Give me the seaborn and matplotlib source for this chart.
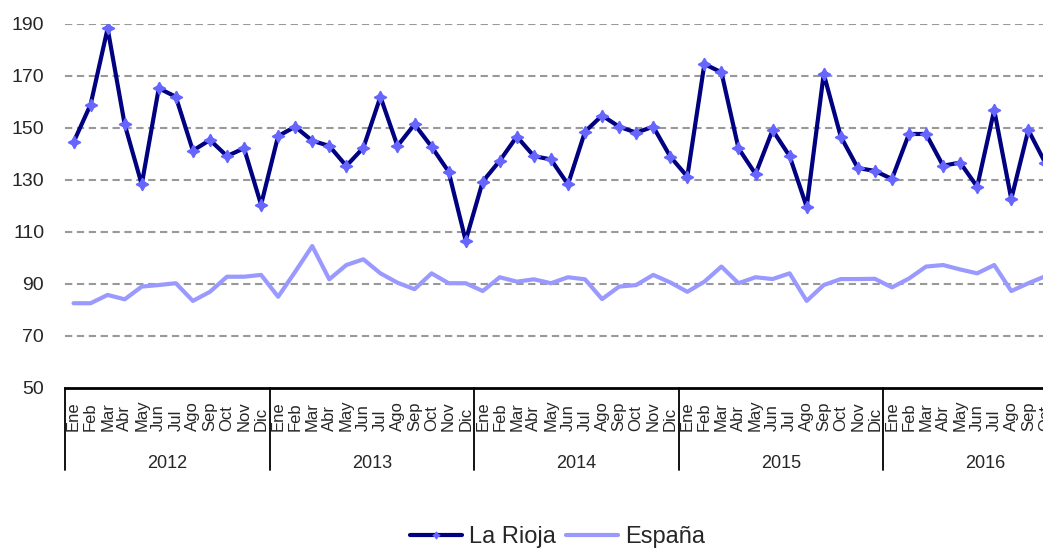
import matplotlib
matplotlib.use("Agg")
import matplotlib.pyplot as plt
import seaborn as sns
import pandas as pd
import numpy as np
from matplotlib.lines import Line2D

months = ["Ene", "Feb", "Mar", "Abr", "May", "Jun", "Jul", "Ago", "Sep", "Oct", "Nov", "Dic"]
years = ["2012", "2013", "2014", "2015", "2016"]

la_rioja = [
    144.5, 159.0, 188.3, 151.4, 128.3, 165.3, 162.0, 141.3, 145.4, 139.2, 142.2, 120.5,
    146.9, 150.5, 145.1, 143.1, 135.4, 142.4, 162.0, 143.1, 151.4, 142.8, 133.2, 106.7,
    129.4, 137.4, 146.7, 139.2, 137.9, 128.3, 148.6, 154.8, 150.5, 148.2, 150.5, 139.0,
    131.3, 174.6, 171.4, 142.2, 132.3, 149.2, 139.2, 119.7, 170.8, 146.7, 134.6, 133.5,
    130.4, 147.7, 147.7, 135.5, 136.7, 127.4, 156.9, 122.7, 149.2, 136.5,
]
espana = [
    82.6, 82.6, 85.8, 84.1, 89.0, 89.6, 90.3, 83.5, 87.0, 92.8, 92.8, 93.5,
    85.1, 94.7, 104.6, 91.8, 97.3, 99.5, 94.1, 90.5, 88.0, 94.1, 90.3, 90.3,
    87.3, 92.6, 90.9, 91.8, 90.3, 92.6, 91.8, 84.2, 89.0, 89.6, 93.5, 90.6,
    87.0, 90.9, 96.7, 90.3, 92.6, 91.9, 94.1, 83.5, 89.6, 91.9, 91.9, 92.0,
    88.7, 92.1, 96.7, 97.3, 95.6, 94.1, 97.3, 87.3, 90.3, 93.0,
]
yticks = [50, 70, 90, 110, 130, 150, 170, 190]

n = len(la_rioja)
idx = np.arange(n)
month_labels = [months[i % 12] for i in range(n)]
df = pd.DataFrame({"i": idx, "La Rioja": la_rioja, "España": espana})

sns.set_style("white")
plt.rcParams["font.family"] = ["Liberation Sans", "DejaVu Sans"]

W, H = 1043, 549
fig = plt.figure(figsize=(W / 100, H / 100), dpi=100)
left_px, bottom_px, top_px = 65, 388, 24
ax = fig.add_axes([left_px / W, (H - bottom_px) / H, (W - left_px) / W, (bottom_px - top_px) / H])

navy = "#000080"
light = "#9999ff"
mk = "#6666ff"

sns.lineplot(data=df, x="i", y="España", ax=ax, color=light, linewidth=3.0, legend=False)
sns.lineplot(data=df, x="i", y="La Rioja", ax=ax, color=navy, linewidth=3.0,
             marker=(4, 1, 0), markersize=9, markerfacecolor=mk, markeredgecolor=mk,
             markeredgewidth=1.0, legend=False)

ax.set_ylim(50, 190)
slot = 17.05
ax.set_xlim(-0.5, -0.5 + (W - left_px) / slot)
ax.set_yticks(yticks)
ax.set_yticklabels([str(v) for v in yticks], fontsize=14)
ax.tick_params(axis="y", length=0, pad=15)
ax.set_xticks([])
ax.set_xlabel("")
ax.set_ylabel("")

for v in yticks[1:]:
    ax.axhline(v, color="#999999", linewidth=1.5, linestyle=(0, (3.5, 2.2)), zorder=0)

for s in ["left", "right", "top"]:
    ax.spines[s].set_visible(False)
ax.spines["bottom"].set_color("black")
ax.spines["bottom"].set_linewidth(2.0)

tr = ax.get_xaxis_transform()
ax_h = bottom_px - top_px
lab_bottom = -(431 - bottom_px) / ax_h
for i, m in enumerate(month_labels):
    ax.text(i, lab_bottom, m, transform=tr, rotation=90, ha="center", va="bottom",
            fontsize=12, clip_on=False)

sep_bottom = -(470 - bottom_px) / ax_h
year_y = -(463 - bottom_px) / ax_h
for k, yr in enumerate(years):
    x0 = k * 12 - 0.5
    ax.plot([x0, x0], [0, sep_bottom], transform=tr, color="black", linewidth=1.3,
            clip_on=False)
    ax.text(k * 12 + 5.5, year_y, yr, transform=tr, ha="center", va="center",
            fontsize=13, clip_on=False)

handles = [
    Line2D([], [], color=navy, linewidth=3.0, marker=(4, 1, 0), markersize=5,
           markerfacecolor=mk, markeredgecolor=mk),
    Line2D([], [], color=light, linewidth=3.0),
]
fig.legend(handles, ["La Rioja", "España"], loc="center", ncol=2,
           bbox_to_anchor=(557.5 / W, (H - 537) / H), frameon=False, fontsize=17,
           handlelength=2.2, handletextpad=0.3, columnspacing=0.4)

fig.savefig("out.png", dpi=100)
